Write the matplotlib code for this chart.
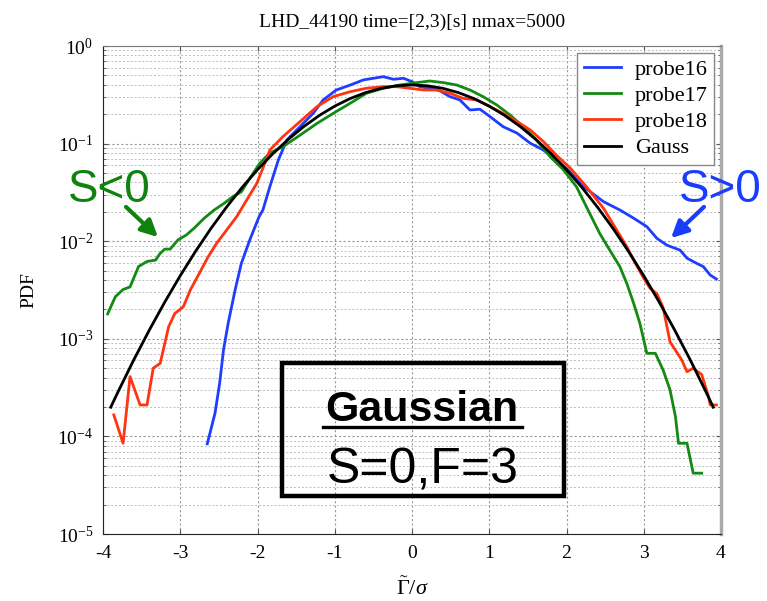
import matplotlib
matplotlib.use("Agg")
import matplotlib.pyplot as plt
from matplotlib.patches import Rectangle
from matplotlib.lines import Line2D

# values
p16_x = [-2.65, -2.55, -2.49, -2.44, -2.38, -2.29, -2.21, -2.10, -1.98, -1.93,
         -1.84, -1.73, -1.62, -1.45, -1.28, -1.15, -0.98, -0.80, -0.63, -0.50,
         -0.37, -0.24, -0.11, 0.00, 0.10, 0.23, 0.36, 0.49, 0.62, 0.75,
         0.88, 1.01, 1.18, 1.36, 1.53, 1.70, 1.87, 2.02, 2.22, 2.48,
         2.69, 2.87, 3.04, 3.17, 3.30, 3.47, 3.56, 3.69, 3.77, 3.86, 3.94]
p16_y = [8.4e-5, 1.73e-4, 3.5e-4, 7.7e-4, 1.44e-3, 3.16e-3, 5.9e-3, 1.03e-2, 1.78e-2, 2.09e-2,
         3.62e-2, 6.8e-2, 0.109, 0.149, 0.204, 0.280, 0.354, 0.398, 0.449, 0.467,
         0.485, 0.456, 0.467, 0.431, 0.383, 0.369, 0.348, 0.303, 0.280, 0.221,
         0.225, 0.189, 0.149, 0.128, 0.101, 0.086, 0.068, 0.0537, 0.0362, 0.0254,
         0.0209, 0.0172, 0.0141, 0.0107, 9.1e-3, 8.1e-3, 6.7e-3, 5.9e-3, 5.5e-3, 4.5e-3, 4.1e-3]

p17_x = [-3.94, -3.84, -3.74, -3.65, -3.54, -3.43, -3.32, -3.26, -3.20, -3.13,
         -3.03, -2.92, -2.82, -2.69, -2.56, -2.43, -2.32, -2.21, -2.10, -1.97,
         -1.84, -1.67, -1.45, -1.23, -1.02, -0.80, -0.59, -0.37, -0.16, 0.06,
         0.23, 0.41, 0.58, 0.75, 0.92, 1.10, 1.27, 1.44, 1.61, 1.79,
         1.96, 2.13, 2.30, 2.43, 2.56, 2.69, 2.78, 2.87, 2.95, 3.04,
         3.15, 3.25, 3.34, 3.41, 3.45, 3.56, 3.64, 3.75]
p17_y = [1.8e-3, 2.7e-3, 3.2e-3, 3.4e-3, 5.5e-3, 6.2e-3, 6.4e-3, 7.5e-3, 8.3e-3, 8.3e-3,
         1.03e-2, 1.16e-2, 1.36e-2, 1.72e-2, 2.09e-2, 2.45e-2, 2.86e-2, 3.2e-2, 4.4e-2, 6.3e-2,
         0.080, 0.093, 0.122, 0.161, 0.204, 0.259, 0.328, 0.369, 0.398, 0.421,
         0.438, 0.421, 0.398, 0.354, 0.303, 0.248, 0.196, 0.149, 0.109, 0.073,
         0.054, 0.036, 0.0193, 0.0120, 8.1e-3, 5.5e-3, 3.7e-3, 2.3e-3, 1.44e-3, 7.1e-4,
         7.1e-4, 4.8e-4, 3.0e-4, 1.6e-4, 8.5e-5, 8.5e-5, 4.2e-5, 4.2e-5]

p18_x = [-3.86, -3.74, -3.65, -3.52, -3.43, -3.35, -3.26, -3.15, -3.07, -2.96,
         -2.87, -2.74, -2.64, -2.53, -2.40, -2.27, -2.14, -2.01, -1.93, -1.84,
         -1.67, -1.45, -1.23, -1.02, -0.80, -0.59, -0.37, -0.20, -0.03, 0.15,
         0.32, 0.49, 0.66, 0.84, 1.01, 1.18, 1.36, 1.53, 1.70, 1.87,
         2.05, 2.26, 2.48, 2.65, 2.78, 2.87, 2.99, 3.08, 3.17, 3.25,
         3.34, 3.49, 3.56, 3.64, 3.75, 3.84, 3.86, 3.94]
p18_y = [1.66e-4, 8.5e-5, 4.1e-4, 2.1e-4, 2.1e-4, 5.0e-4, 5.6e-4, 1.33e-3, 1.82e-3, 2.13e-3,
         3.16e-3, 4.9e-3, 6.9e-3, 9.5e-3, 1.30e-2, 1.78e-2, 2.64e-2, 3.9e-2, 0.056, 0.086,
         0.118, 0.168, 0.239, 0.303, 0.340, 0.369, 0.383, 0.383, 0.369, 0.354,
         0.354, 0.328, 0.291, 0.280, 0.239, 0.204, 0.168, 0.138, 0.105, 0.076,
         0.056, 0.036, 0.0217, 0.0130, 8.8e-3, 6.4e-3, 4.3e-3, 3.3e-3, 2.9e-3, 2.1e-3,
         9.3e-4, 6.1e-4, 4.6e-4, 5.0e-4, 4.3e-4, 2.55e-4, 2.1e-4, 2.1e-4]

gauss_x = [-3.9, -3.8, -3.6, -3.4, -3.2, -3.0, -2.8, -2.6, -2.4, -2.2, -2.0,
           -1.8, -1.6, -1.4, -1.2, -1.0, -0.8, -0.6, -0.4, -0.2, 0.0,
           0.2, 0.4, 0.6, 0.8, 1.0, 1.2, 1.4, 1.6, 1.8, 2.0,
           2.2, 2.4, 2.6, 2.8, 3.0, 3.2, 3.4, 3.6, 3.8, 3.9]
gauss_y = [1.99e-4, 2.92e-4, 6.12e-4, 1.23e-3, 2.38e-3, 4.43e-3, 7.92e-3, 1.36e-2, 2.24e-2, 3.55e-2, 5.40e-2,
           7.90e-2, 0.1109, 0.1497, 0.1942, 0.2420, 0.2897, 0.3332, 0.3683, 0.3910, 0.3989,
           0.3910, 0.3683, 0.3332, 0.2897, 0.2420, 0.1942, 0.1497, 0.1109, 7.90e-2, 5.40e-2,
           3.55e-2, 2.24e-2, 1.36e-2, 7.92e-3, 4.43e-3, 2.38e-3, 1.23e-3, 6.12e-4, 2.92e-4, 1.99e-4]

xticks = [-4, -3, -2, -1, 0, 1, 2, 3, 4]

plt.rcParams["font.family"] = ["Liberation Serif", "DejaVu Serif"]
plt.rcParams["mathtext.fontset"] = "custom"
plt.rcParams["mathtext.rm"] = "Liberation Serif"
plt.rcParams["mathtext.it"] = "Liberation Serif:italic"

fig = plt.figure(figsize=(7.67, 6.01), dpi=100)
ax = fig.add_axes([103 / 767, 1 - 534 / 601, 618 / 767, 488 / 601])

blue = "#1f3dff"
green = "#138a13"
red = "#ff3512"

ax.plot(p16_x, p16_y, color=blue, lw=2, label="probe16")
ax.plot(p17_x, p17_y, color=green, lw=2, label="probe17")
ax.plot(p18_x, p18_y, color=red, lw=2, label="probe18")
ax.plot(gauss_x, gauss_y, color="black", lw=2, label="Gauss")

ax.set_yscale("log")
ax.set_xlim(-4, 4)
ax.set_ylim(1e-5, 1)
ax.set_xticks(xticks)
ax.set_xticklabels([str(t) for t in xticks])

ax.grid(True, which="major", color="#9a9a9a", linestyle=(0, (2, 2)), lw=0.8)
ax.grid(True, which="minor", axis="y", color="#bdbdbd", linestyle=(0, (2, 2)), lw=0.7)
ax.tick_params(which="both", direction="in", top=True, right=True, labelsize=14, pad=8, color="#555555")
ax.tick_params(axis="y", pad=7)

for s in ["left", "bottom"]:
    ax.spines[s].set_color("#222222")
ax.spines["top"].set_color("#777777")
ax.spines["right"].set_color("#aaaaaa")
ax.spines["right"].set_linewidth(2.5)

ax.set_title("LHD_44190 time=[2,3)[s] nmax=5000", fontsize=14, pad=14)
ax.set_ylabel("PDF", fontsize=14, labelpad=14)
ax.set_xlabel(r"$\tilde{\Gamma}/\sigma$", fontsize=16)
ax.xaxis.set_label_coords(0.5, -0.088)

leg = ax.legend(loc="upper right", bbox_to_anchor=(0.989, 0.986), borderaxespad=0,
                fontsize=16, handlelength=1.7, labelspacing=0.25, borderpad=0.3,
                handletextpad=0.6, fancybox=False, framealpha=1)
leg.get_frame().set_edgecolor("#888888")
leg.get_frame().set_linewidth(1.0)

# annotation box (positions in image pixels, y from top)
H = 601
fig.patches.append(Rectangle((282, H - 496), 282, 133, transform=None, fill=False,
                             edgecolor="black", lw=3.2, figure=fig))
fig.text(422 / 767, 1 - 421 / H, "Gaussian", family="Liberation Sans", weight="bold",
         fontsize=31, ha="center", va="baseline")
fig.add_artist(Line2D([323 / 767, 522 / 767], [1 - 427 / H, 1 - 427 / H], color="black", lw=2.4))
fig.text(423 / 767, 1 - 484 / H, "S=0,F=3", family="Liberation Sans",
         fontsize=36, ha="center", va="baseline")

fig.text(68 / 767, 1 - 202 / H, "S<0", family="Liberation Sans", color="#0f820f",
         fontsize=33, ha="left", va="baseline")
fig.text(679 / 767, 1 - 202 / H, "S>0", family="Liberation Sans", color="#1a3cff",
         fontsize=33, ha="left", va="baseline")
ax.annotate("", xy=(160, H - 239), xycoords="figure pixels", xytext=(124, H - 205),
            textcoords="figure pixels",
            arrowprops=dict(arrowstyle="-|>", color="#0f820f", lw=3, mutation_scale=25))
ax.annotate("", xy=(669, H - 240), xycoords="figure pixels", xytext=(706, H - 205),
            textcoords="figure pixels",
            arrowprops=dict(arrowstyle="-|>", color="#1a3cff", lw=3, mutation_scale=25))

fig.savefig("out.png", dpi=100)
